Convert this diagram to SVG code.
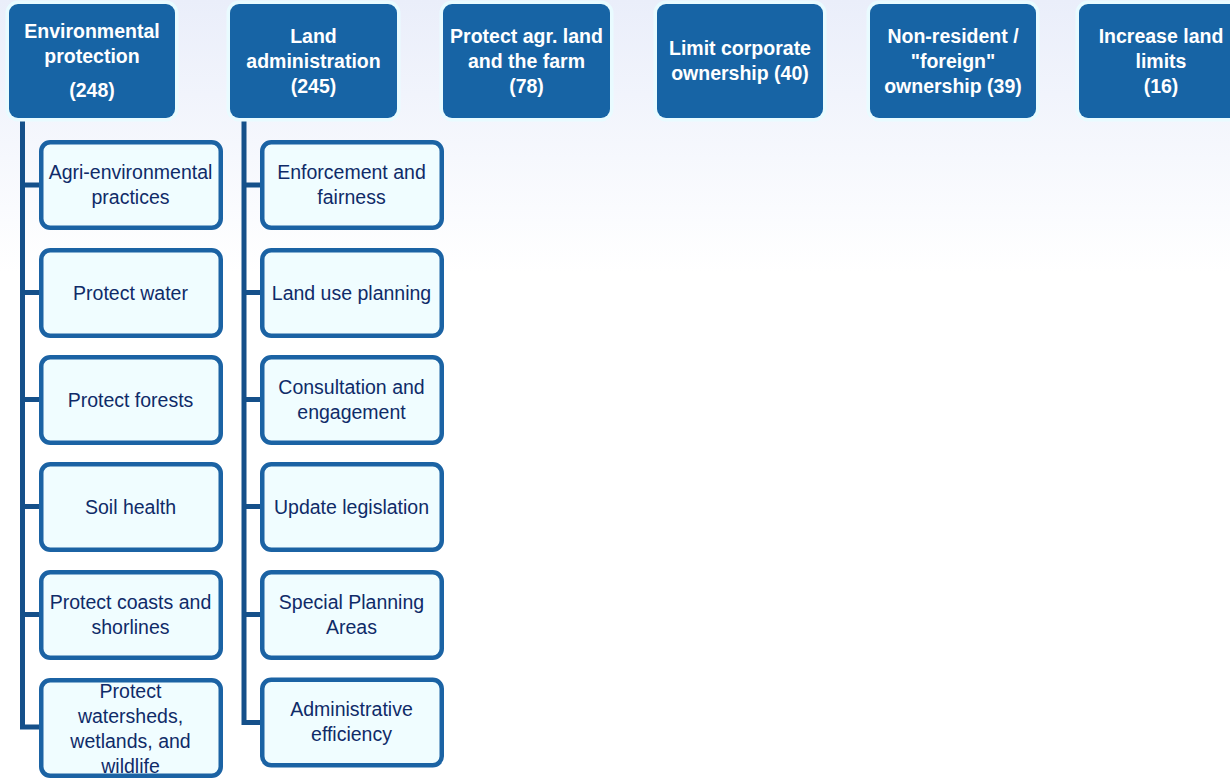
<svg xmlns="http://www.w3.org/2000/svg" width="1230" height="778" viewBox="0 0 1230 778">
<defs>
<linearGradient id="bg" x1="0" y1="0" x2="0" y2="1">
<stop offset="0" stop-color="#eaeefa"/>
<stop offset="0.12" stop-color="#f1f4fc"/>
<stop offset="0.35" stop-color="#ffffff"/>
<stop offset="1" stop-color="#ffffff"/>
</linearGradient>
</defs>
<style>
.top rect{fill:#1764a5;stroke:#e9fbff;stroke-width:7;paint-order:stroke}
.top text{fill:#ffffff;font-family:"Liberation Sans",Arial,sans-serif;font-weight:bold;font-size:19.5px;text-anchor:middle}
.child rect{fill:#f0fdff;stroke:#1b63a4;stroke-width:4.5}
.child text{fill:#0f2b68;font-family:"Liberation Sans",Arial,sans-serif;font-size:19.5px;text-anchor:middle}
.conn path{fill:none;stroke:#15508a;stroke-width:5;stroke-linejoin:miter;stroke-linecap:butt}
</style>
<rect x="0" y="0" width="1230" height="778" fill="url(#bg)"/>

<g id="connectors" class="conn">
<path d="M22.5 118 V727 H41"/>
<path d="M22.5 185 H41 M22.5 292.5 H41 M22.5 399.5 H41 M22.5 506.5 H41 M22.5 614.5 H41"/>
<path d="M244 118 V722.5 H262"/>
<path d="M244 185 H262 M244 292.5 H262 M244 399.5 H262 M244 506.5 H262 M244 614.5 H262"/>
</g>

<g id="env" class="top">
<rect x="9" y="4" width="166" height="114" rx="9"/>
<text x="92" y="38">Environmental</text>
<text x="92" y="63">protection</text>
<text x="92" y="97">(248)</text>
</g>
<g id="land" class="top">
<rect x="230" y="4" width="167" height="114" rx="9"/>
<text x="313.5" y="43">Land</text>
<text x="313.5" y="68">administration</text>
<text x="313.5" y="93">(245)</text>
</g>
<g id="agr" class="top">
<rect x="443" y="4" width="167" height="114" rx="9"/>
<text x="526.5" y="43">Protect agr. land</text>
<text x="526.5" y="68">and the farm</text>
<text x="526.5" y="93">(78)</text>
</g>
<g id="corp" class="top">
<rect x="657" y="4" width="166" height="114" rx="9"/>
<text x="740" y="55">Limit corporate</text>
<text x="740" y="80">ownership (40)</text>
</g>
<g id="foreign" class="top">
<rect x="870" y="4" width="166" height="114" rx="9"/>
<text x="953" y="43">Non-resident /</text>
<text x="953" y="68">"foreign"</text>
<text x="953" y="93">ownership (39)</text>
</g>
<g id="limits" class="top">
<rect x="1079" y="4" width="166" height="114" rx="9"/>
<text x="1161" y="43">Increase land</text>
<text x="1161" y="68">limits</text>
<text x="1161" y="93">(16)</text>
</g>

<g id="env-agri" class="child">
<rect x="41.25" y="142.25" width="179.5" height="85.5" rx="9"/>
<text x="130.5" y="179">Agri-environmental</text>
<text x="130.5" y="204">practices</text>
</g>
<g id="env-water" class="child">
<rect x="41.25" y="250.25" width="179.5" height="85.5" rx="9"/>
<text x="130.5" y="299.5">Protect water</text>
</g>
<g id="env-forests" class="child">
<rect x="41.25" y="357.25" width="179.5" height="85.5" rx="9"/>
<text x="130.5" y="406.5">Protect forests</text>
</g>
<g id="env-soil" class="child">
<rect x="41.25" y="464.25" width="179.5" height="85.5" rx="9"/>
<text x="130.5" y="513.5">Soil health</text>
</g>
<g id="env-coasts" class="child">
<rect x="41.25" y="572.25" width="179.5" height="85.5" rx="9"/>
<text x="130.5" y="609">Protect coasts and</text>
<text x="130.5" y="634">shorlines</text>
</g>
<g id="env-watersheds" class="child">
<rect x="41.25" y="680.25" width="179.5" height="95.5" rx="9"/>
<text x="130.5" y="698">Protect</text>
<text x="130.5" y="723">watersheds,</text>
<text x="130.5" y="748">wetlands, and</text>
<text x="130.5" y="773">wildlife</text>
</g>

<g id="land-enforcement" class="child">
<rect x="262.25" y="142.25" width="179.5" height="85.5" rx="9"/>
<text x="351.5" y="179">Enforcement and</text>
<text x="351.5" y="204">fairness</text>
</g>
<g id="land-planning" class="child">
<rect x="262.25" y="250.25" width="179.5" height="85.5" rx="9"/>
<text x="351.5" y="299.5">Land use planning</text>
</g>
<g id="land-consultation" class="child">
<rect x="262.25" y="357.25" width="179.5" height="85.5" rx="9"/>
<text x="351.5" y="394">Consultation and</text>
<text x="351.5" y="419">engagement</text>
</g>
<g id="land-legislation" class="child">
<rect x="262.25" y="464.25" width="179.5" height="85.5" rx="9"/>
<text x="351.5" y="513.5">Update legislation</text>
</g>
<g id="land-special" class="child">
<rect x="262.25" y="572.25" width="179.5" height="85.5" rx="9"/>
<text x="351.5" y="609">Special Planning</text>
<text x="351.5" y="634">Areas</text>
</g>
<g id="land-admin" class="child">
<rect x="262.25" y="679.75" width="179.5" height="85.5" rx="9"/>
<text x="351.5" y="716">Administrative</text>
<text x="351.5" y="741">efficiency</text>
</g>
</svg>
